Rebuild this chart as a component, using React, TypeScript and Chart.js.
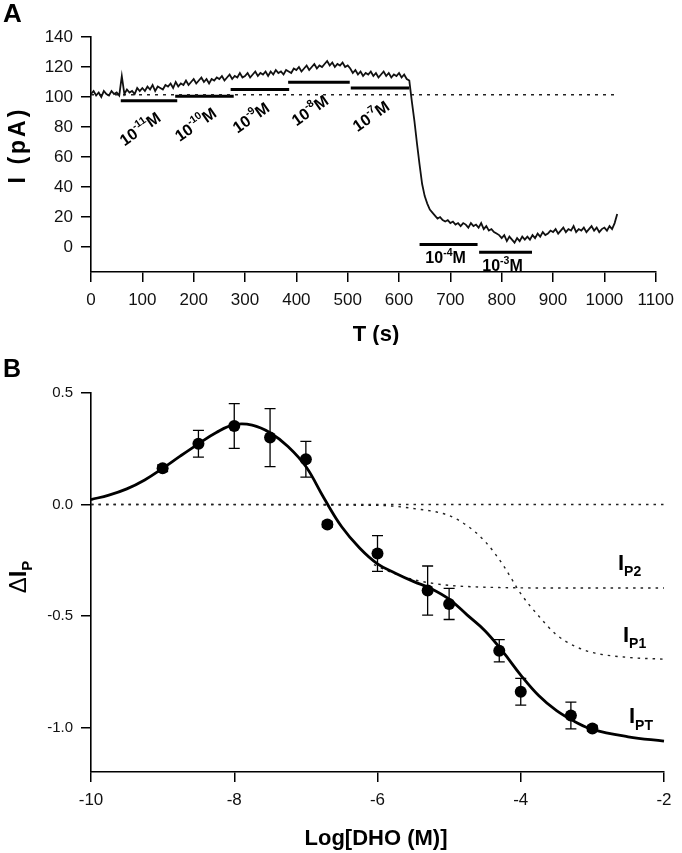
import { useEffect, useRef } from "react";
import { Chart, registerables } from "chart.js";

Chart.register(...registerables);

const FONT = "'Liberation Sans', Arial, Helvetica, sans-serif";

// ---------------- Panel A data ----------------
const TRACE_STEP_S = 5;
const TRACE_PA = [
  102, 104, 101, 103, 100, 104, 102, 101, 104, 102,
  103, 101, 114, 102, 105, 103, 104, 102, 106, 104,
  106, 104, 107, 105, 108, 104, 107, 106, 105, 108,
  107, 109, 106, 110, 107, 109, 108, 111, 108, 110,
  112, 109, 111, 113, 110, 112, 109, 112, 111, 113,
  112, 114, 111, 113, 115, 112, 114, 113, 116, 113,
  114, 116, 113, 115, 117, 114, 116, 115, 117, 114,
  117, 115, 118, 116, 117, 115, 118, 117, 116, 119,
  118, 120, 117, 119, 121, 118, 120, 122, 119, 121,
  120, 122, 124, 121, 123, 120, 122, 121, 123, 120,
  121, 119, 116, 118, 115, 117, 114, 116, 115, 117,
  114, 116, 113, 115, 117, 114, 116, 113, 115, 114,
  116, 113, 115, 112, 111, 97, 84, 69, 55, 42,
  34, 29, 25, 23, 21, 19, 20, 18, 17, 18,
  16, 17, 15, 16, 14, 16, 15, 13, 16, 14,
  15, 13, 16, 12, 14, 11, 12, 10, 9, 8,
  6, 8, 4, 7, 5, 3, 6, 4, 7, 5,
  7, 5, 8, 6, 9, 7, 10, 8, 9, 11,
  10, 12, 9, 11, 13, 10, 12, 11, 14, 10,
  12, 11, 13, 10, 12, 14, 11, 13, 10, 12,
  13, 11, 14, 12, 16, 22,
];
const BASELINE_PA = 101.5;
const BASELINE_START_S = 0;
const BASELINE_END_S = 1022;
const APPLY_START_S = [58, 164, 272, 384, 506, 640, 756];
const APPLY_END_S = [168, 278, 386, 504, 620, 753, 859];
const APPLY_LEVEL_PA = [97.5, 100.5, 105, 109.8, 106, 1.8, -3.5];
const APPLY_EXPONENT = ["-11", "-10", "-9", "-8", "-7", "-4", "-3"];
const APPLY_ROTATED = [true, true, true, true, true, false, false];
const A_X_TICKS = [0, 100, 200, 300, 400, 500, 600, 700, 800, 900, 1000, 1100];
const A_Y_TICKS = [0, 20, 40, 60, 80, 100, 120, 140];

// ---------------- Panel B data ----------------
const LOG_DHO = [-9, -8.5, -8, -7.5, -7, -6.7, -6, -5.3, -5, -4.3, -4, -3.3, -3];
const DELTA_IP = [0.162, 0.272, 0.352, 0.3, 0.203, -0.09, -0.22, -0.386, -0.446, -0.656, -0.84, -0.947, -1.005];
const DELTA_IP_ERR = [0.015, 0.06, 0.1, 0.13, 0.08, 0.012, 0.08, 0.11, 0.07, 0.05, 0.06, 0.06, 0.012];

const FIT_X = [-10, -9.75, -9.5, -9.25, -9, -8.75, -8.5, -8.25, -8, -7.75, -7.5, -7.25, -7, -6.75, -6.5, -6.25, -6, -5.75, -5.5, -5.25, -5, -4.75, -4.5, -4.25, -4, -3.75, -3.5, -3.25, -3, -2.5, -2];
const FIT_IPT = [0.022, 0.042, 0.07, 0.11, 0.162, 0.218, 0.272, 0.323, 0.358, 0.356, 0.322, 0.26, 0.17, 0.03, -0.1, -0.195, -0.266, -0.308, -0.345, -0.378, -0.425, -0.495, -0.566, -0.66, -0.765, -0.857, -0.925, -0.973, -1.009, -1.042, -1.062];
const IP1_X = [-10, -6, -5.5, -5, -4.75, -4.5, -4.25, -4, -3.75, -3.5, -3.25, -3, -2.5, -2];
const IP1_Y = [0, -0.004, -0.018, -0.05, -0.095, -0.165, -0.27, -0.4, -0.5, -0.585, -0.635, -0.664, -0.686, -0.694];
const IP2_X = [-6.05, -5.8, -5.5, -5.2, -5, -4.5, -4, -3, -2];
const IP2_Y = [-0.27, -0.305, -0.337, -0.355, -0.363, -0.371, -0.374, -0.375, -0.375];
const ZERO_X = [-10, -2];
const B_X_TICKS = [-10, -8, -6, -4, -2];
const B_Y_TICKS = [0.5, 0, -0.5, -1.0];

// ---------------- helpers ----------------
type Piece = { t: string; size: number; dy?: number; bold?: boolean };

function font(p: Piece) {
  return `${p.bold === false ? "" : "bold "}${p.size}px ${FONT}`;
}

function drawPieces(ctx: CanvasRenderingContext2D, pieces: Piece[], x: number, y: number, align: "left" | "center") {
  ctx.save();
  ctx.textAlign = "left";
  ctx.textBaseline = "alphabetic";
  ctx.fillStyle = "#000";
  let w = 0;
  for (const p of pieces) {
    ctx.font = font(p);
    w += ctx.measureText(p.t).width;
  }
  let cx = align === "center" ? x - w / 2 : x;
  for (const p of pieces) {
    ctx.font = font(p);
    ctx.fillText(p.t, cx, y + (p.dy || 0));
    cx += ctx.measureText(p.t).width;
  }
  ctx.restore();
}

function axisOpts(ticks: number[], size: number, pad: number, extra: any = {}) {
  return {
    type: "linear" as const,
    afterBuildTicks: (s: any) => {
      s.ticks = ticks.map((v) => ({ value: v }));
    },
    grid: { display: true, drawOnChartArea: false, drawTicks: true, tickLength: 10, color: "#000", lineWidth: 1.5 },
    border: { display: true, color: "#000", width: 1.6 },
    ticks: {
      color: "#111",
      font: { family: FONT, size },
      padding: pad,
      autoSkip: false,
      maxRotation: 0,
      callback: (v: any) => String(v),
    },
    ...extra,
  };
}

// ---------------- Panel A ----------------
function PanelA() {
  const ref = useRef<HTMLCanvasElement | null>(null);
  useEffect(() => {
    const canvas = ref.current!;
    const trace = TRACE_PA.map((v, i) => ({ x: i * TRACE_STEP_S, y: v }));
    const bars = APPLY_START_S.map((s, i) => ({
      data: [
        { x: s, y: APPLY_LEVEL_PA[i] },
        { x: APPLY_END_S[i], y: APPLY_LEVEL_PA[i] },
      ],
      borderColor: "#000",
      borderWidth: 3,
      pointRadius: 0,
      borderCapStyle: "butt" as const,
    }));

    const textPlugin = {
      id: "textA",
      afterDraw(chart: any) {
        const ctx = chart.ctx as CanvasRenderingContext2D;
        const xs = chart.scales.x;
        const ys = chart.scales.y;
        drawPieces(ctx, [{ t: "A", size: 26 }], 3, 22, "left");
        drawPieces(ctx, [{ t: "T (s)", size: 22 }], 376, 341, "center");
        ctx.save();
        ctx.translate(25, 145);
        ctx.rotate(-Math.PI / 2);
        (ctx as any).letterSpacing = "3px";
        drawPieces(ctx, [{ t: "I (pA)", size: 23 }], 0, 0, "center");
        ctx.restore();
        APPLY_START_S.forEach((s, i) => {
          const mid = xs.getPixelForValue((s + APPLY_END_S[i]) / 2);
          const by = ys.getPixelForValue(APPLY_LEVEL_PA[i]);
          const pieces: Piece[] = [
            { t: "10", size: 16 },
            { t: APPLY_EXPONENT[i], size: 10.5, dy: -7.5 },
            { t: "M", size: 16 },
          ];
          if (APPLY_ROTATED[i]) {
            ctx.save();
            ctx.translate(mid - 9, by + 28);
            ctx.rotate((-35 * Math.PI) / 180);
            drawPieces(ctx, pieces, 0, 5.5, "center");
            ctx.restore();
          } else {
            drawPieces(ctx, pieces, mid - 3, by + 19, "center");
          }
        });
      },
    };

    const chart = new Chart(canvas, {
      type: "line",
      data: {
        datasets: [
          {
            data: trace,
            borderColor: "#111",
            borderWidth: 1.8,
            pointRadius: 0,
            tension: 0,
          },
          {
            data: [
              { x: BASELINE_START_S, y: BASELINE_PA },
              { x: BASELINE_END_S, y: BASELINE_PA },
            ],
            borderColor: "#222",
            borderWidth: 1.5,
            borderDash: [3, 5],
            pointRadius: 0,
          },
          ...bars,
        ],
      },
      options: {
        animation: false,
        responsive: false,
        devicePixelRatio: 1,
        layout: { padding: { top: 37, right: 21, left: 0, bottom: 0 } },
        plugins: { legend: { display: false }, tooltip: { enabled: false } },
        scales: {
          x: axisOpts(A_X_TICKS, 17, 8, {
            min: 0,
            max: 1100,
            afterFit: (s: any) => {
              s.height = 73;
            },
          }),
          y: axisOpts(A_Y_TICKS, 17, 8, {
            min: -16.6,
            max: 140,
            afterFit: (s: any) => {
              s.width = 91;
            },
          }),
        },
      } as any,
      plugins: [textPlugin],
    });
    return () => chart.destroy();
  }, []);
  return <canvas ref={ref} width={682} height={345} style={{ position: "absolute", left: 0, top: 0, width: 682, height: 345 }} />;
}

// ---------------- Panel B ----------------
function PanelB() {
  const ref = useRef<HTMLCanvasElement | null>(null);
  useEffect(() => {
    const canvas = ref.current!;
    const pts = LOG_DHO.map((x, i) => ({ x, y: DELTA_IP[i] }));
    const fit = FIT_X.map((x, i) => ({ x, y: FIT_IPT[i] }));
    const ip1 = IP1_X.map((x, i) => ({ x, y: IP1_Y[i] }));
    const ip2 = IP2_X.map((x, i) => ({ x, y: IP2_Y[i] }));
    const zero = ZERO_X.map((x) => ({ x, y: 0 }));

    const errPlugin = {
      id: "errB",
      afterDatasetsDraw(chart: any) {
        const ctx = chart.ctx as CanvasRenderingContext2D;
        const xs = chart.scales.x;
        const ys = chart.scales.y;
        ctx.save();
        ctx.strokeStyle = "#000";
        ctx.lineWidth = 1.3;
        LOG_DHO.forEach((x, i) => {
          const px = xs.getPixelForValue(x);
          const top = ys.getPixelForValue(DELTA_IP[i] + DELTA_IP_ERR[i]);
          const bot = ys.getPixelForValue(DELTA_IP[i] - DELTA_IP_ERR[i]);
          ctx.beginPath();
          ctx.moveTo(px, top);
          ctx.lineTo(px, bot);
          ctx.moveTo(px - 5.5, top);
          ctx.lineTo(px + 5.5, top);
          ctx.moveTo(px - 5.5, bot);
          ctx.lineTo(px + 5.5, bot);
          ctx.stroke();
        });
        ctx.restore();
      },
      afterDraw(chart: any) {
        const ctx = chart.ctx as CanvasRenderingContext2D;
        drawPieces(ctx, [{ t: "B", size: 25 }], 3, 32, "left");
        drawPieces(ctx, [{ t: "Log[DHO (M)]", size: 22 }], 376, 500, "center");
        ctx.save();
        ctx.translate(26, 232);
        ctx.rotate(-Math.PI / 2);
        drawPieces(
          ctx,
          [
            { t: "Δ", size: 24, bold: false },
            { t: "I", size: 24 },
            { t: "P", size: 15, dy: 6 },
          ],
          0,
          0,
          "center"
        );
        ctx.restore();
        drawPieces(ctx, [{ t: "I", size: 22 }, { t: "P2", size: 14, dy: 6 }], 618, 225, "left");
        drawPieces(ctx, [{ t: "I", size: 22 }, { t: "P1", size: 14, dy: 6 }], 623, 297, "left");
        drawPieces(ctx, [{ t: "I", size: 22 }, { t: "PT", size: 14, dy: 7 }], 629, 378, "left");
      },
    };

    const chart = new Chart(canvas, {
      type: "line",
      data: {
        datasets: [
          {
            data: pts,
            showLine: false,
            pointRadius: 6,
            pointBackgroundColor: "#000",
            pointBorderColor: "#000",
            pointBorderWidth: 0,
          },
          {
            data: fit,
            borderColor: "#000",
            borderWidth: 2.8,
            pointRadius: 0,
            tension: 0.4,
          },
          {
            data: ip1,
            borderColor: "#222",
            borderWidth: 1.4,
            borderDash: [2.5, 5],
            pointRadius: 0,
            cubicInterpolationMode: "monotone",
          },
          {
            data: ip2,
            borderColor: "#222",
            borderWidth: 1.4,
            borderDash: [2.5, 5],
            pointRadius: 0,
            cubicInterpolationMode: "monotone",
          },
          {
            data: zero,
            borderColor: "#222",
            borderWidth: 1.4,
            borderDash: [2.5, 5],
            pointRadius: 0,
          },
        ],
      },
      options: {
        animation: false,
        responsive: false,
        devicePixelRatio: 1,
        clip: false,
        layout: { padding: { top: 48, right: 18, left: 0, bottom: 0 } },
        plugins: { legend: { display: false }, tooltip: { enabled: false } },
        scales: {
          x: axisOpts(B_X_TICKS, 17, 8, {
            min: -10,
            max: -2,
            afterFit: (s: any) => {
              s.height = 81;
            },
          }),
          y: axisOpts(B_Y_TICKS, 15, 8, {
            min: -1.2,
            max: 0.5,
            afterFit: (s: any) => {
              s.width = 91;
            },
            ticks: {
              color: "#111",
              font: { family: FONT, size: 15 },
              padding: 8,
              autoSkip: false,
              callback: (v: any) => Number(v).toFixed(1),
            },
          }),
        },
      } as any,
      plugins: [errPlugin],
    });
    return () => chart.destroy();
  }, []);
  return <canvas ref={ref} width={682} height={508} style={{ position: "absolute", left: 0, top: 345, width: 682, height: 508 }} />;
}

export default function App() {
  return (
    <div style={{ position: "absolute", left: 0, top: 0, width: 682, height: 853, background: "#fff", overflow: "hidden" }}>
      <PanelA />
      <PanelB />
    </div>
  );
}
